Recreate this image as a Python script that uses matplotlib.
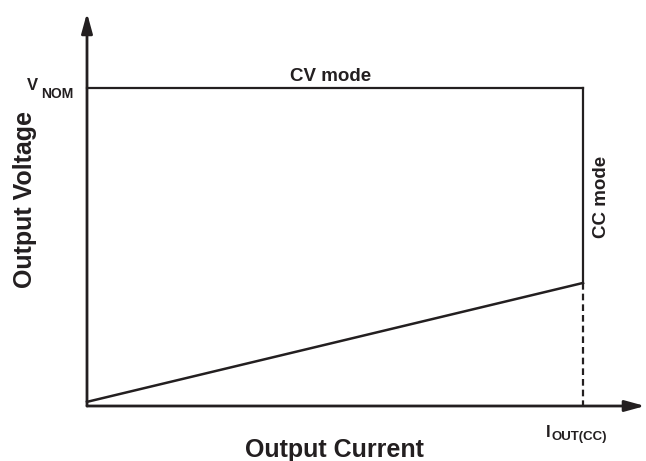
import matplotlib
matplotlib.use('Agg')
import matplotlib.pyplot as plt

plt.rcParams['font.family'] = ['Liberation Sans', 'DejaVu Sans']

# values in units of I_OUT(CC) and V_NOM
current = [0.0, 1.0]
cv_voltage = [1.0, 1.0]
cc_current = [1.0, 1.0]
cc_voltage = [1.0, 0.387]
load_voltage = [0.013, 0.387]
dashed_voltage = [0.387, 0.0]
x_axis_end = 1.125
y_axis_end = 1.236

ink = '#231f20'

fig = plt.figure(figsize=(6.46, 4.61), dpi=100)
ax = fig.add_axes([0, 0, 1, 1])
# origin at pixel (87, 406), I_OUT(CC) at x=583, V_NOM at y=88
ax.set_xlim(-87 / 496, (646 - 87) / 496)
ax.set_ylim(-(461 - 406) / 318, 406 / 318)
ax.axis('off')

# axes with arrows
arrow = dict(arrowstyle='-|>,head_length=1.2,head_width=0.33', color=ink, lw=2,
             shrinkA=0, shrinkB=0)
ax.annotate('', xy=(x_axis_end, 0), xytext=(0, 0), arrowprops=arrow)
ax.annotate('', xy=(0, y_axis_end), xytext=(0, 0), arrowprops=arrow)

ax.plot(current, cv_voltage, color=ink, lw=1.6, solid_capstyle='projecting')
ax.plot(cc_current, cc_voltage, color=ink, lw=1.6)
ax.plot(current, load_voltage, color=ink, lw=1.8)
ax.plot(cc_current, dashed_voltage, color=ink, lw=1.6, dashes=(3, 1.8))


def fx(px):
    return px / 646


def fy(py):
    return 1 - py / 461


tf = fig.transFigure
ax.text(fx(331), fy(81), 'CV mode', transform=tf, ha='center', va='baseline',
        fontsize=13.5, fontweight='bold', color=ink)
ax.text(fx(602), fy(197), 'CC mode', transform=tf, ha='center', va='center',
        rotation=90, fontsize=13.5, fontweight='bold', color=ink)
ax.text(fx(25), fy(199), 'Output Voltage', transform=tf, ha='center', va='center',
        rotation=90, fontsize=18, fontweight='bold', color=ink)
ax.text(fx(334), fy(457), 'Output Current', transform=tf, ha='center', va='baseline',
        fontsize=18, fontweight='bold', color=ink)

ax.text(fx(27), fy(90), 'V', transform=tf, ha='left', va='baseline',
        fontsize=12, fontweight='bold', color=ink)
ax.text(fx(41), fy(98), 'NOM', transform=tf, ha='left', va='baseline',
        fontsize=10, fontweight='bold', color=ink)
ax.text(fx(546), fy(437), 'I', transform=tf, ha='left', va='baseline',
        fontsize=12, fontweight='bold', color=ink)
ax.text(fx(551), fy(440), 'OUT(CC)', transform=tf, ha='left', va='baseline',
        fontsize=9.5, fontweight='bold', color=ink)

fig.savefig('out.png', dpi=100)
